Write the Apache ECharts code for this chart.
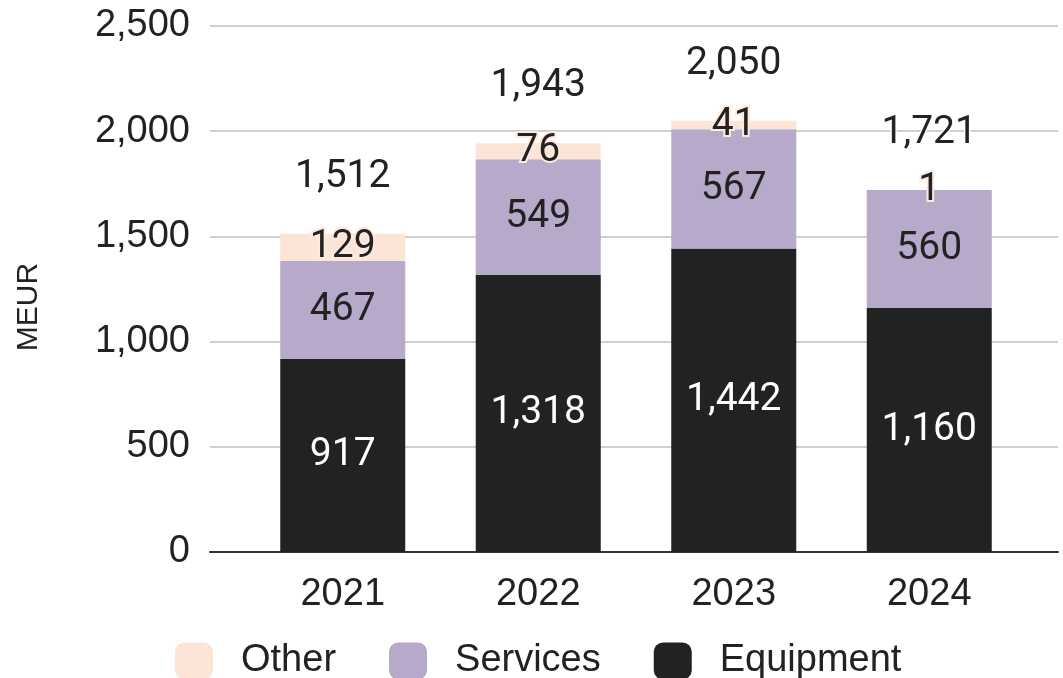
<!DOCTYPE html>
<html>
<head>
<meta charset="utf-8">
<script src="https://cdn.jsdelivr.net/npm/echarts@6/dist/echarts.min.js"></script>
<style>
  html, body { margin: 0; padding: 0; background: #ffffff; }
  #chart { width: 1063px; height: 678px; }
</style>
</head>
<body>
<div id="chart"></div>
<script>
// Revenue by segment, MEUR
const years = ['2021', '2022', '2023', '2024'];
const equipment = [917, 1318, 1442, 1160];
const services = [467, 549, 567, 560];
const other = [129, 76, 41, 1];
const totals = [1512, 1943, 2050, 1721];
const yTicks = [0, 500, 1000, 1500, 2000, 2500];

const fmt = v => Number(v).toLocaleString('en-US');
const axisFont = 'Liberation Sans, Arial, sans-serif';
const labelFont = 'Roboto, Liberation Sans, sans-serif';

const chart = echarts.init(document.getElementById('chart'));

const barCommon = {
  type: 'bar',
  xAxisIndex: 1,
  yAxisIndex: 1,
  barWidth: 125,
  barGap: '-100%'
};

chart.setOption({
  animation: false,
  backgroundColor: '#ffffff',
  // grid 0 carries the gridlines and value labels, grid 1 the bars
  grid: [
    { left: 210, right: 5, top: 26, bottom: 126 },
    { left: 245, right: 36, top: 26, bottom: 126 }
  ],
  graphic: [
    {
      type: 'text',
      x: 29,
      y: 307,
      rotation: Math.PI / 2,
      style: {
        text: 'MEUR',
        fontFamily: axisFont,
        fontSize: 30,
        fill: '#222222',
        align: 'center',
        verticalAlign: 'middle'
      }
    }
  ],
  legend: {
    data: ['Other', 'Services', 'Equipment'],
    left: 170,
    top: 637,
    itemWidth: 38,
    itemHeight: 37,
    itemGap: 53,
    icon: 'roundRect',
    textStyle: {
      fontFamily: axisFont,
      fontSize: 38,
      color: '#222222',
      padding: [0, 0, 0, 23]
    }
  },
  xAxis: [
    {
      gridIndex: 0,
      type: 'value',
      min: 0,
      max: 1,
      axisLine: { show: true, onZero: false, lineStyle: { color: '#333333', width: 2 } },
      axisTick: { show: false },
      axisLabel: { show: false },
      splitLine: { show: false }
    },
    {
      gridIndex: 1,
      type: 'category',
      data: years,
      axisLine: { show: false },
      axisTick: { show: false },
      axisLabel: {
        fontFamily: axisFont,
        fontSize: 38,
        color: '#222222',
        margin: 24
      }
    }
  ],
  yAxis: [
    {
      gridIndex: 0,
      type: 'value',
      min: yTicks[0],
      max: yTicks[yTicks.length - 1],
      interval: 500,
      axisLine: { show: false },
      axisTick: { show: false },
      axisLabel: {
        fontFamily: axisFont,
        fontSize: 38,
        color: '#222222',
        margin: 20,
        formatter: v => fmt(v)
      },
      splitLine: { lineStyle: { color: '#cfcfcf', width: 2 } }
    },
    {
      gridIndex: 1,
      type: 'value',
      min: yTicks[0],
      max: yTicks[yTicks.length - 1],
      interval: 500,
      show: false,
      splitLine: { show: false }
    }
  ],
  series: [
    Object.assign({}, barCommon, {
      name: 'Equipment',
      stack: 'rev',
      data: equipment,
      itemStyle: { color: '#222222' },
      label: {
        show: true,
        position: 'inside',
        fontFamily: labelFont,
        fontSize: 39,
        color: '#ffffff',
        formatter: p => fmt(p.value)
      }
    }),
    Object.assign({}, barCommon, {
      name: 'Services',
      stack: 'rev',
      data: services,
      itemStyle: { color: '#b7a9c9' },
      label: {
        show: true,
        position: 'inside',
        fontFamily: labelFont,
        fontSize: 39,
        color: '#222222',
        formatter: p => fmt(p.value)
      }
    }),
    Object.assign({}, barCommon, {
      name: 'Other',
      stack: 'rev',
      data: other,
      itemStyle: { color: '#fce4d6' },
      label: {
        show: true,
        position: 'inside',
        fontFamily: labelFont,
        fontSize: 39,
        color: '#222222',
        textBorderColor: '#fde9dd',
        textBorderWidth: 4,
        formatter: p => fmt(p.value)
      }
    }),
    Object.assign({}, barCommon, {
      name: 'Total',
      data: totals,
      z: 1,
      itemStyle: { color: 'rgba(0,0,0,0)' },
      silent: true,
      label: {
        show: true,
        position: 'top',
        distance: 37,
        fontFamily: labelFont,
        fontSize: 39,
        color: '#222222',
        textBorderColor: '#ffffff',
        textBorderWidth: 3,
        formatter: p => fmt(p.value)
      }
    })
  ]
});
</script>
</body>
</html>
